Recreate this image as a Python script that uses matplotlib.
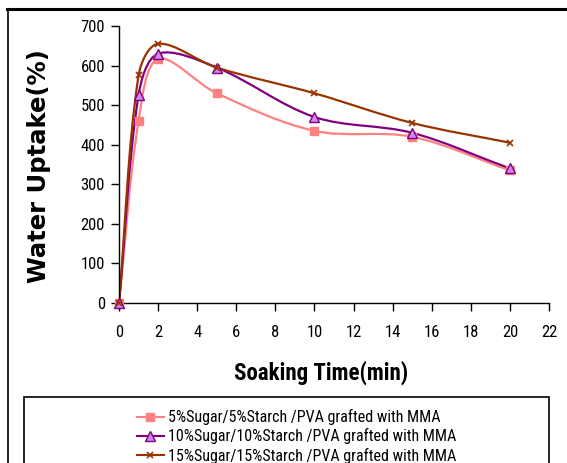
import numpy as np
import matplotlib.pyplot as plt
from matplotlib.path import Path
from matplotlib.patches import PathPatch, Rectangle
from matplotlib.lines import Line2D

# soaking time (min) and water uptake (%) for each formulation
time = [0, 1, 2, 5, 10, 15, 20]
uptake_5 = [0, 460, 617, 530, 435, 420, 335]
uptake_10 = [0, 525, 630, 595, 470, 430, 340]
uptake_15 = [0, 575, 655, 595, 530, 455, 405]
labels = [
    "5%Sugar/5%Starch /PVA grafted with MMA",
    "10%Sugar/10%Starch /PVA grafted with MMA",
    "15%Sugar/15%Starch /PVA grafted with MMA",
]

narrow = ["Roboto Condensed", "Archivo Narrow", "Liberation Sans", "DejaVu Sans"]
plt.rcParams["font.family"] = narrow


def smooth_path(ax, xs, ys):
    # smoothed line: bezier segments built in screen space, control arms
    # scaled by the neighbouring segment lengths
    pts = ax.transData.transform(np.column_stack([xs, ys]).astype(float))
    n = len(pts)
    verts = [pts[0]]
    codes = [Path.MOVETO]
    for i in range(n - 1):
        p0 = pts[i - 1] if i > 0 else pts[i]
        p1 = pts[i]
        p2 = pts[i + 1]
        p3 = pts[i + 2] if i + 2 < n else pts[i + 1]
        d01 = np.hypot(*(p1 - p0))
        d12 = np.hypot(*(p2 - p1))
        d23 = np.hypot(*(p3 - p2))
        c1 = p1 + (p2 - p0) * d12 / (d01 + d12) / 3.0
        c2 = p2 - (p3 - p1) * d12 / (d12 + d23) / 3.0
        verts += [c1, c2, p2]
        codes += [Path.CURVE4] * 3
    verts = ax.transData.inverted().transform(np.array(verts))
    return Path(verts, codes)


fig = plt.figure(figsize=(5.67, 4.63), dpi=100)
ax = fig.add_axes([119 / 567, 1 - 303 / 463, 430 / 567, 277 / 463])
ax.set_xlim(0, 22)
ax.set_ylim(0, 700)

series = [
    (uptake_5, "#FF8080", dict(marker="s", ms=5.5, mfc="#FF8080", mec="#FF8080")),
    (uptake_10, "#800080", dict(marker="^", ms=6.5, mfc="#CC88EE", mec="#800080", mew=1.0)),
    (uptake_15, "#993300", dict(marker="x", ms=4.5, mec="#993300", mew=1.2)),
]

handles = []
for ys, color, mk in series:
    ax.add_patch(PathPatch(smooth_path(ax, time, ys), fc="none", ec=color, lw=1.6, zorder=2))
    ax.plot(time, ys, ls="none", zorder=3, clip_on=False, **mk)
    handles.append(Line2D([], [], color=color, lw=1.5, **mk))

ax.set_xticks(range(0, 23, 2))
ax.set_yticks(range(0, 701, 100))
ax.spines["top"].set_visible(False)
ax.spines["right"].set_visible(False)
ax.spines["left"].set_linewidth(1.0)
ax.spines["bottom"].set_linewidth(1.0)
ax.tick_params(direction="out", length=6, width=1.0, labelsize=12)
ax.tick_params(axis="x", pad=10)
ax.tick_params(axis="y", pad=4)

ax.set_xlabel("Soaking Time(min)", fontsize=16.5, fontweight="bold", va="center")
ax.xaxis.set_label_coords((321 - 119) / 430, -70 / 277)
ax.set_ylabel("Water Uptake(%)", fontsize=17.5, fontweight="bold", va="center",
              family=["DejaVu Sans"])
ax.yaxis.set_label_coords((38.5 - 119) / 430, (303 - 166.5) / 277)

# outer chart frame
fig.add_artist(Line2D([7 / 567, 1], [1 - 8.5 / 463] * 2, color="black", lw=2.2,
                      transform=fig.transFigure))
fig.add_artist(Line2D([7.5 / 567] * 2, [0, 1 - 8.5 / 463], color="black", lw=1.2,
                      transform=fig.transFigure))

# legend box
fig.add_artist(Rectangle((24 / 567, -0.1), 525 / 567, 0.1 + 1 - 397 / 463,
                         fill=False, ec="black", lw=1.2, transform=fig.transFigure))
fig.legend(handles, labels, loc="upper left", bbox_to_anchor=(126 / 567, 1 - 398 / 463),
           frameon=False, fontsize=11.5, handlelength=1.65, handletextpad=0.25,
           labelspacing=0.2, borderpad=0.2)

fig.savefig("out.png", dpi=100)
